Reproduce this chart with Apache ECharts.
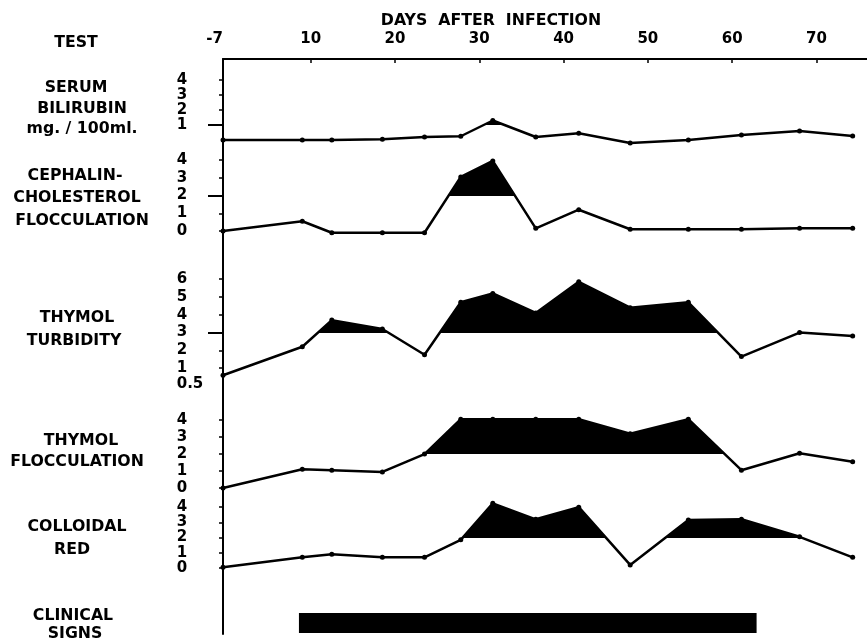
<!DOCTYPE html>
<html><head><meta charset="utf-8">
<script src="https://cdn.jsdelivr.net/npm/echarts@6/dist/echarts.min.js"></script>
<style>html,body{margin:0;padding:0;background:#fff}#c{width:867px;height:642px}</style>
</head><body><div id="c"></div>
<script>
// ---- data ----
const days = [-7, 9, 12.5, 18.5, 23.5, 27.8, 31.6, 36.7, 41.8, 47.9, 54.8, 61.1, 68, 74.3];
const serumBilirubin      = [0, 0, 0, 0.05, 0.2, 0.25, 1.3, 0.2, 0.45, -0.2, 0, 0.33, 0.6, 0.27];
const cephalinCholesterol = [0, 0.55, -0.1, -0.1, -0.1, 3.05, 3.95, 0.15, 1.2, 0.1, 0.1, 0.1, 0.15, 0.15];
const thymolTurbidity     = [0.6, 2.2, 3.7, 3.2, 1.75, 4.7, 5.2, 4.1, 5.85, 4.4, 4.7, 1.65, 3.0, 2.8];
const thymolFlocculation  = [0, 1.1, 1.05, 0.95, 2.0, 4.05, 4.05, 4.05, 4.05, 3.2, 4.05, 1.05, 2.05, 1.55];
const colloidalRed        = [0.05, 0.7, 0.9, 0.7, 0.7, 1.85, 4.25, 3.2, 4.0, 0.2, 3.15, 3.2, 2.05, 0.7];
const thresholds = [1, 2, 3, 2, 2];
const clinicalSigns = [8.6, 62.9]; // start / end day
const xTickLabels = [-7, 10, 20, 30, 40, 50, 60, 70];
const yTickLabels = [[1, 2, 3, 4], [0, 1, 2, 3, 4], [1, 2, 3, 4, 5, 6], [0, 1, 2, 3, 4], [0, 1, 2, 3, 4]];
const yExtraLabels = [[], [], [0.5], [], []];
const yTicks      = [[2, 3, 4], [0, 1, 3, 4], [1, 2, 4, 5, 6], [0, 1, 2, 3, 4], [0, 1, 2, 3, 4]];
const longTicks   = [[1], [2], [3], [], []];
const testNames = [
  ['SERUM', 'BILIRUBIN', 'mg. / 100ml.'],
  ['CEPHALIN-', 'CHOLESTEROL', 'FLOCCULATION'],
  ['THYMOL', 'TURBIDITY'],
  ['THYMOL', 'FLOCCULATION'],
  ['COLLOIDAL', 'RED'],
  ['CLINICAL', 'SIGNS']
];
const series5 = [serumBilirubin, cephalinCholesterol, thymolTurbidity, thymolFlocculation, colloidalRed];

// ---- layout ----
const LEFT = 223;
const panels = [
  { top: 59,  height: 87,  min: -0.4,  max: 5.4 },
  { top: 146, height: 104, min: -1.07, max: 4.79 },
  { top: 250, height: 150, min: -0.79, max: 7.64 },
  { top: 400, height: 95,  min: -0.41, max: 5.18 },
  { top: 495, height: 95,  min: -1.45, max: 4.8 },
  { top: 590, height: 44,  min: 0,     max: 2 }
];
const labelPos = [
  [[76, 88], [82, 109], [82, 129]],
  [[75, 176], [77, 198], [82, 221]],
  [[77, 318], [74, 341]],
  [[81, 441], [77, 462]],
  [[77, 527], [72, 550]],
  [[73, 616], [75, 634]]
];
const FONT = '"DejaVu Sans", sans-serif';
const black = '#000';

const grids = panels.map(p => ({ left: LEFT, right: 0, top: p.top, height: p.height }));
const xAxes = panels.map((p, i) => ({
  type: 'value', gridIndex: i, min: -7, max: 76,
  breaks: [{ start: -6.99, end: -0.4, gap: 0 }],
  breakArea: { show: false, itemStyle: { opacity: 0, borderWidth: 0 }, zigzagAmplitude: 0 },
  show: i === 0,
  position: 'top',
  splitLine: { show: false },
  axisLine: { show: i === 0, onZero: false, lineStyle: { color: black, width: 2 } },
  axisTick: { show: i === 0, inside: true, length: 4, lineStyle: { color: black, width: 1.5 },
              customValues: xTickLabels.slice(1) },
  axisLabel: { show: i === 0, customValues: xTickLabels, margin: 12, color: black,
               fontFamily: FONT, fontWeight: 'bold', fontSize: 15, alignMinLabel: 'right' }
}));
const yAxes = [];
panels.forEach((p, i) => {
  yAxes.push({
    type: 'value', gridIndex: i, min: p.min, max: p.max, position: 'left',
    splitLine: { show: false },
    axisLine: { show: true, onZero: false, lineStyle: { color: black, width: 2 } },
    axisTick: { show: i < 5, length: 4, lineStyle: { color: black, width: 1.5 },
                customValues: i < 5 ? yTicks[i] : [] },
    axisLabel: { show: i < 5, customValues: i < 5 ? yTickLabels[i] : [], margin: 41, align: 'center',
                 color: black, fontFamily: FONT, fontWeight: 'bold', fontSize: 15, hideOverlap: false }
  });
});
// long ticks marking the normal limit, plus the offset "0.5" label
longTicks.forEach((t, i) => {
  yAxes.push({
    type: 'value', gridIndex: i, min: panels[i].min, max: panels[i].max,
    position: 'left', offset: 0,
    splitLine: { show: false }, axisLine: { show: false, onZero: false },
    axisLabel: { show: yExtraLabels[i].length > 0, customValues: yExtraLabels[i], margin: 33,
                 align: 'center', verticalAlign: 'top',
                 color: black, fontFamily: FONT, fontWeight: 'bold', fontSize: 15 },
    axisTick: { show: t.length > 0, inside: false, length: 15, lineStyle: { color: black, width: 2 }, customValues: t }
  });
});

const series = [];
const visualMaps = [];
series5.forEach((vals, i) => {
  const data = days.map((d, k) => [d, vals[k]]);
  visualMaps.push({
    type: 'piecewise', show: false, dimension: 1, seriesIndex: series.length,
    pieces: [
      { gt: thresholds[i], lte: 1000, color: black },
      { gte: -1000, lte: thresholds[i], color: 'rgba(0,0,0,0)' }
    ]
  });
  series.push({
    type: 'line', xAxisIndex: i, yAxisIndex: i, data, symbol: 'none', silent: true, z: 1,
    lineStyle: { width: 0, opacity: 0 },
    areaStyle: { origin: 'start', opacity: 1 }
  });
  series.push({
    type: 'line', xAxisIndex: i, yAxisIndex: i, data, silent: true, z: 3,
    symbol: 'circle', symbolSize: 5,
    itemStyle: { color: black }, lineStyle: { color: black, width: 2.5 }
  });
});
series.push({
  type: 'line', xAxisIndex: 5, yAxisIndex: 5, silent: true, symbol: 'none',
  data: clinicalSigns.map(d => [d, 0.5]),
  lineStyle: { color: black, width: 20, cap: 'butt' }
});

const graphic = [];
const addText = (text, x, y, size) => graphic.push({
  type: 'text', x, y, silent: true, scaleX: 1.05,
  style: { text, fill: black, font: 'bold ' + size + 'px ' + FONT, textAlign: 'center', textVerticalAlign: 'middle' }
});
addText('TEST', 76, 43, 15);
addText('DAYS  AFTER  INFECTION', 491, 21, 15);
testNames.forEach((lines, i) => lines.forEach((s, j) => addText(s, labelPos[i][j][0], labelPos[i][j][1], 15)));

const chart = echarts.init(document.getElementById('c'), null, { renderer: 'canvas' });
chart.setOption({
  animation: false,
  backgroundColor: '#fff',
  grid: grids, xAxis: xAxes, yAxis: yAxes,
  visualMap: visualMaps,
  series, graphic
});
</script></body></html>
